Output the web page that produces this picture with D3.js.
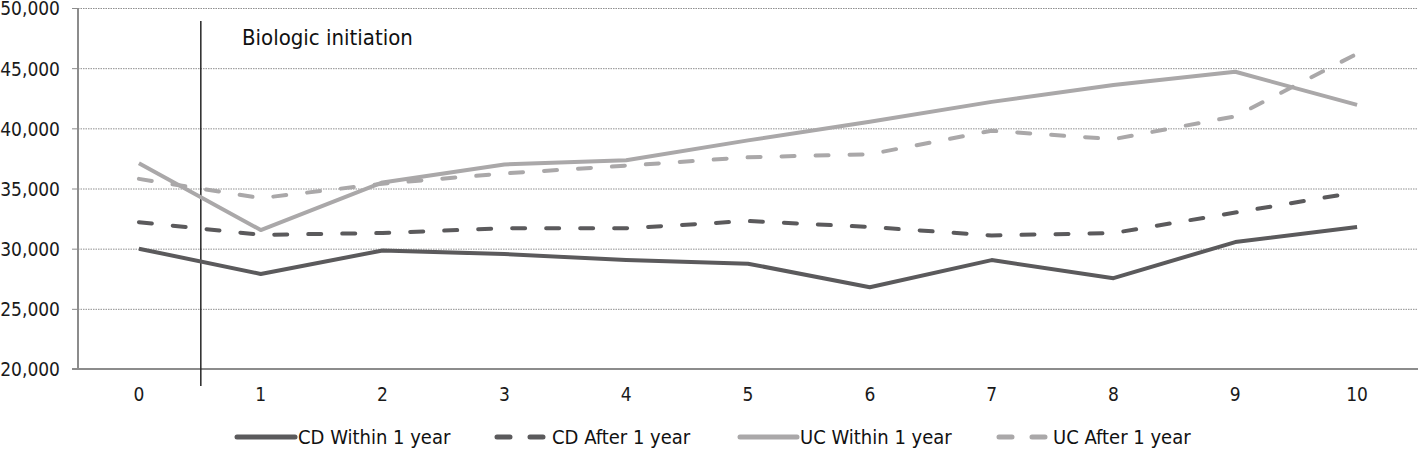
<!DOCTYPE html>
<html><head><meta charset="utf-8">
<script src="https://cdn.jsdelivr.net/npm/d3@7"></script>
<style>
html,body{margin:0;padding:0;background:#fff;}
svg{display:block;font-family:"DejaVu Sans Condensed","DejaVu Sans",sans-serif;font-stretch:condensed;}
text{font-family:"DejaVu Sans Condensed","DejaVu Sans",sans-serif;font-stretch:condensed;}
</style></head>
<body>
<svg id="chart" width="1418" height="449"></svg>
<script>
const categories = ["0","1","2","3","4","5","6","7","8","9","10"];
const cdWithin = [30000,27900,29850,29550,29050,28750,26800,29050,27550,30550,31800];
const cdAfter  = [32200,31150,31300,31700,31700,32300,31800,31100,31300,33000,34700];
const ucWithin = [37100,31550,35500,37000,37350,39000,40550,42200,43600,44700,41950];
const ucAfter  = [35800,34200,35400,36250,36900,37600,37850,39800,39100,41000,46200];
const yTicks = [20000,25000,30000,35000,40000,45000,50000];
const seriesNames = ["CD Within 1 year","CD After 1 year","UC Within 1 year","UC After 1 year"];
const annotationLabel = "Biologic initiation";

(function(){
const svg = d3.select("#chart");
const mLeft = 78, mRight = 1418, mTop = 8, mBottom = 369;
const x = d3.scaleBand().domain(categories).range([mLeft, mRight]);
const xc = c => x(c) + x.bandwidth()/2;
const y = d3.scaleLinear().domain([20000,50000]).range([mBottom, mTop]);

// gridlines
svg.append("g").selectAll("line").data(yTicks.filter(t=>t>20000)).join("line")
  .attr("x1", mLeft).attr("x2", mRight)
  .attr("y1", d=>y(d)+0.5).attr("y2", d=>y(d)+0.5)
  .attr("stroke","#8f8f8f").attr("stroke-width",1).attr("stroke-dasharray","1.5,1");

// y axis
const yAxis = d3.axisLeft(y).tickValues(yTicks).tickSize(6).tickFormat(d3.format(","));
const gy = svg.append("g").attr("transform",`translate(${mLeft},0)`).call(yAxis);
gy.attr("font-family", null).attr("font-size", null);
gy.select(".domain").attr("stroke","#8c8c8c").attr("stroke-width",2).attr("d",`M0,${mTop}V${mBottom}`);
gy.selectAll(".tick line").attr("stroke","#8c8c8c").attr("stroke-width",1);
gy.selectAll(".tick text").attr("x",-18).attr("dy","0.36em")
  .attr("font-size","19px").attr("fill","#1a1a1a");

// x axis
const xAxis = d3.axisBottom(x).tickSize(0).tickPadding(19);
const gx = svg.append("g").attr("transform",`translate(0,${mBottom})`).call(xAxis);
gx.attr("font-family", null).attr("font-size", null);
gx.select(".domain").attr("stroke","#8c8c8c").attr("stroke-width",2).attr("d",`M${mLeft-6},0H${mRight}`);
gx.selectAll(".tick text").attr("font-size","19px").attr("fill","#1a1a1a");

// annotation vertical line
const vx = (xc("0")+xc("1"))/2 + 1;
svg.append("line").attr("x1",vx).attr("x2",vx).attr("y1",21).attr("y2",386)
  .attr("stroke","#262626").attr("stroke-width",1.5);
svg.append("text").attr("x",242).attr("y",44.5).text(annotationLabel)
  .attr("font-size","22px").attr("fill","#111");

const dark = "#5b5a5c", light = "#aaa8a9";
const styles = [
  {data:cdWithin, color:dark, dash:null},
  {data:cdAfter, color:dark, dash:"13,21"},
  {data:ucWithin, color:light, dash:null},
  {data:ucAfter, color:light, dash:"13,21"}
];
const line = d3.line().x((d,i)=>xc(categories[i])).y(d=>y(d));
styles.forEach(s=>{
  svg.append("path").attr("d", line(s.data)).attr("fill","none")
    .attr("stroke", s.color).attr("stroke-width",4)
    .attr("stroke-linecap", s.dash ? "round":"butt")
    .attr("stroke-linejoin","round")
    .attr("stroke-dasharray", s.dash);
});

// legend
const symX = [[237,295],[495,545],[740,797],[997,1047]];
const textX = [298, 552, 800, 1053];
const legY = 437;
seriesNames.forEach((name,i)=>{
  const s = styles[i];
  const g = svg.append("g");
  g.append("line").attr("x1",symX[i][0]+(s.dash?2:0)).attr("x2",symX[i][1]-(s.dash?2:0))
    .attr("y1",legY).attr("y2",legY)
    .attr("stroke",s.color).attr("stroke-width",5).attr("stroke-linecap","round")
    .attr("stroke-dasharray", s.dash ? "13,20" : null);
  g.append("text").attr("x", textX[i]).attr("y",legY).attr("dy","0.36em")
    .text(name).attr("font-size","20px").attr("fill","#111");
});
})();
</script>
</body></html>
